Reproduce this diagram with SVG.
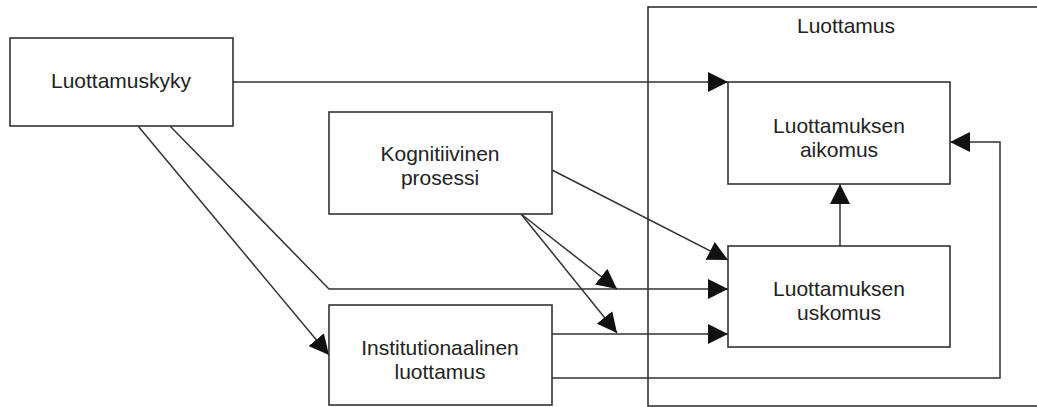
<svg xmlns="http://www.w3.org/2000/svg" width="1037" height="407" viewBox="0 0 1037 407">
<style>
.box{fill:#fff;stroke:#333;stroke-width:1.6}
.frame{fill:none;stroke:#333;stroke-width:1.6}
.lbl{font-family:"Liberation Sans",Arial,sans-serif;font-size:21px;fill:#222;text-anchor:middle}
.con{fill:none;stroke:#333;stroke-width:1.5;marker-end:url(#ah)}
</style>
<defs>
<marker id="ah" markerUnits="userSpaceOnUse" markerWidth="20" markerHeight="20" refX="20" refY="10" orient="auto" viewBox="0 0 20 20">
<path d="M0,0 L20,10 L0,20 Z" fill="#111"/>
</marker>
</defs>
<rect width="1037" height="407" fill="#fff"/>
<g id="luottamus-frame">
<rect class="frame" x="648" y="7" width="420" height="399"/>
<text class="lbl" x="846" y="33">Luottamus</text>
</g>
<g id="connectors">
<path class="con" d="M233,82 L728,82"/>
<path class="con" d="M138,126 L329,355"/>
<path class="con" d="M170,126 L329,289 L728,289"/>
<path class="con" d="M552,170 L728,260"/>
<path class="con" d="M521,214 L617,289"/>
<path class="con" d="M521,214 L617,333"/>
<path class="con" d="M552,334 L728,334"/>
<path class="con" d="M552,378 L1000,378 L1000,142 L950,142"/>
<path class="con" d="M840,246 L840,184"/>
</g>
<g id="luottamuskyky">
<rect class="box" x="10" y="38" width="223" height="88"/>
<text class="lbl" x="121" y="88">Luottamuskyky</text>
</g>
<g id="kognitiivinen">
<rect class="box" x="329" y="112" width="223" height="102"/>
<text class="lbl" x="440" y="161">Kognitiivinen</text>
<text class="lbl" x="440" y="185">prosessi</text>
</g>
<g id="institutionaalinen">
<rect class="box" x="329" y="305" width="223" height="100"/>
<text class="lbl" x="440" y="355">Institutionaalinen</text>
<text class="lbl" x="440" y="379">luottamus</text>
</g>
<g id="aikomus">
<rect class="box" x="728" y="82" width="222" height="102"/>
<text class="lbl" x="839" y="133">Luottamuksen</text>
<text class="lbl" x="839" y="157">aikomus</text>
</g>
<g id="uskomus">
<rect class="box" x="728" y="246" width="222" height="101"/>
<text class="lbl" x="839" y="296">Luottamuksen</text>
<text class="lbl" x="839" y="320">uskomus</text>
</g>
</svg>
